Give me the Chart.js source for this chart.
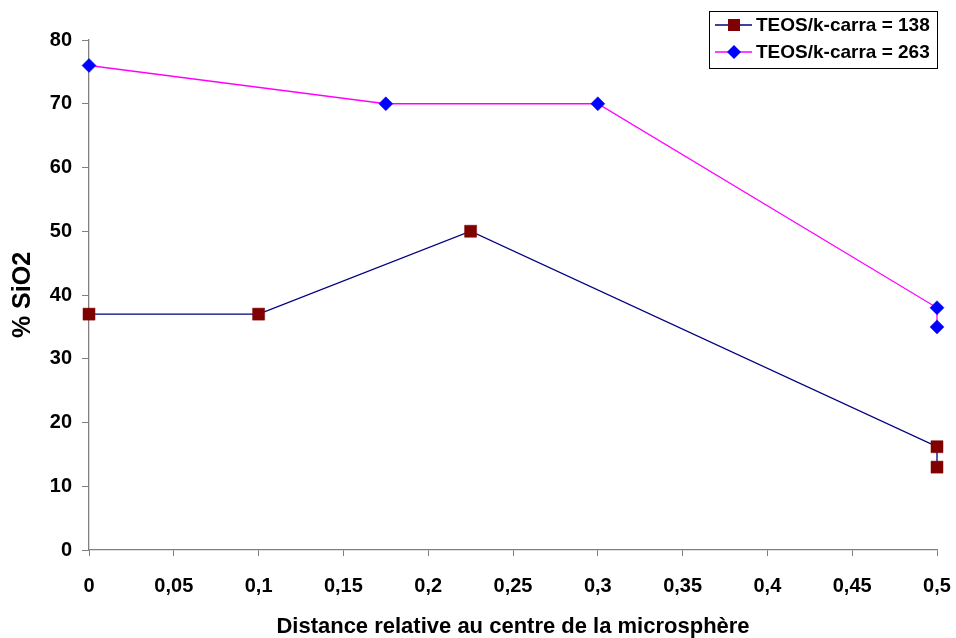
<!DOCTYPE html>
<html><head><meta charset="utf-8">
<script src="https://cdn.jsdelivr.net/npm/chart.js@4/dist/chart.umd.min.js"></script>
<style>html,body{margin:0;padding:0;background:#fff}#wrap{width:956px;height:638px}</style>
</head><body><div id="wrap"><canvas id="c" width="956" height="638"></canvas></div>
<script>
const seriesNames = ["TEOS/k-carra = 138", "TEOS/k-carra = 263"];
const xs138 = [0, 0.1, 0.225, 0.5, 0.5];
const ys138 = [37, 37, 50, 16.2, 13];
const xs263 = [0, 0.175, 0.3, 0.5, 0.5];
const ys263 = [76, 70, 70, 38, 35];
const xTicks = [0, 0.05, 0.1, 0.15, 0.2, 0.25, 0.3, 0.35, 0.4, 0.45, 0.5];
const yTicks = [0, 10, 20, 30, 40, 50, 60, 70, 80];
const xTitle = "Distance relative au centre de la microsphère";
const yTitle = "% SiO2";

const pts = (xs, ys) => xs.map((x, i) => ({x, y: ys[i]}));
const FONT = "'Liberation Sans', Arial, sans-serif";

const legendPlugin = {
  id: 'boxLegend',
  afterDraw(chart) {
    const ctx = chart.ctx;
    const x0 = 709.5, y0 = 11.5, w = 228, h = 57;
    ctx.save();
    ctx.fillStyle = '#fff';
    ctx.fillRect(x0, y0, w, h);
    ctx.strokeStyle = '#000';
    ctx.lineWidth = 1;
    ctx.strokeRect(x0, y0, w, h);
    chart.data.datasets.forEach((ds, i) => {
      const cy = 25 + i * 27;
      ctx.strokeStyle = ds.borderColor;
      ctx.lineWidth = 1.5;
      ctx.beginPath(); ctx.moveTo(715, cy); ctx.lineTo(752, cy); ctx.stroke();
      ctx.fillStyle = ds.pointBackgroundColor;
      if (ds.pointStyle === 'rect') {
        ctx.fillRect(728, cy - 6, 12, 12);
      } else {
        ctx.beginPath();
        ctx.moveTo(734, cy - 7); ctx.lineTo(741, cy); ctx.lineTo(734, cy + 7); ctx.lineTo(727, cy);
        ctx.closePath(); ctx.fill();
      }
      ctx.fillStyle = '#000';
      ctx.font = "bold 19px " + FONT;
      ctx.textBaseline = 'middle';
      ctx.textAlign = 'left';
      ctx.fillText(ds.label, 756, cy + 1);
    });
    ctx.restore();
  }
};

new Chart(document.getElementById('c'), {
  type: 'scatter',
  data: {
    datasets: [
      {label: seriesNames[0], data: pts(xs138, ys138), showLine: true, borderColor: '#000080', borderWidth: 1.3,
       pointStyle: 'rect', pointRadius: 8.5, pointBackgroundColor: '#800000', pointBorderColor: '#800000', pointBorderWidth: 0.5, clip: false},
      {label: seriesNames[1], data: pts(xs263, ys263), showLine: true, borderColor: '#FF00FF', borderWidth: 1.3,
       pointStyle: 'rectRot', pointRadius: 7, pointBackgroundColor: '#0000FF', pointBorderColor: '#0000FF', pointBorderWidth: 0.5, clip: false}
    ]
  },
  options: {
    responsive: false,
    animation: false,
    layout: {padding: {top: 40, right: 19, left: 0, bottom: 0}},
    plugins: {legend: {display: false}, tooltip: {enabled: false}},
    scales: {
      x: {
        type: 'linear', min: 0, max: 0.5,
        afterBuildTicks: s => { s.ticks = xTicks.map(v => ({value: v})); },
        afterFit: s => { s.height = 88; s.paddingLeft = 0; s.paddingRight = 0; },
        grid: {display: true, drawOnChartArea: false, drawTicks: true, tickLength: 6, tickColor: '#808080'},
        border: {display: true, color: '#808080', width: 1.3},
        ticks: {color: '#000', font: {family: FONT, size: 20, weight: 'bold'}, padding: 18, maxRotation: 0,
                callback: v => String(v).replace('.', ',')},
        title: {display: true, text: xTitle, color: '#000', font: {family: FONT, size: 22, weight: 'bold'}, padding: {top: 0, bottom: -2}}
      },
      y: {
        min: 0, max: 80,
        afterBuildTicks: s => { s.ticks = yTicks.map(v => ({value: v})); },
        afterFit: s => { s.width = 89; s.paddingTop = 0; s.paddingBottom = 0; },
        grid: {display: true, drawOnChartArea: false, drawTicks: true, tickLength: 7, tickColor: '#808080'},
        border: {display: true, color: '#808080', width: 1.3},
        ticks: {color: '#000', font: {family: FONT, size: 20, weight: 'bold'}, padding: 10},
        title: {display: true, text: yTitle, color: '#000', font: {family: FONT, size: 25, weight: 'bold'}, padding: {top: 8, bottom: 0}}
      }
    }
  },
  plugins: [legendPlugin]
});
</script></body></html>
